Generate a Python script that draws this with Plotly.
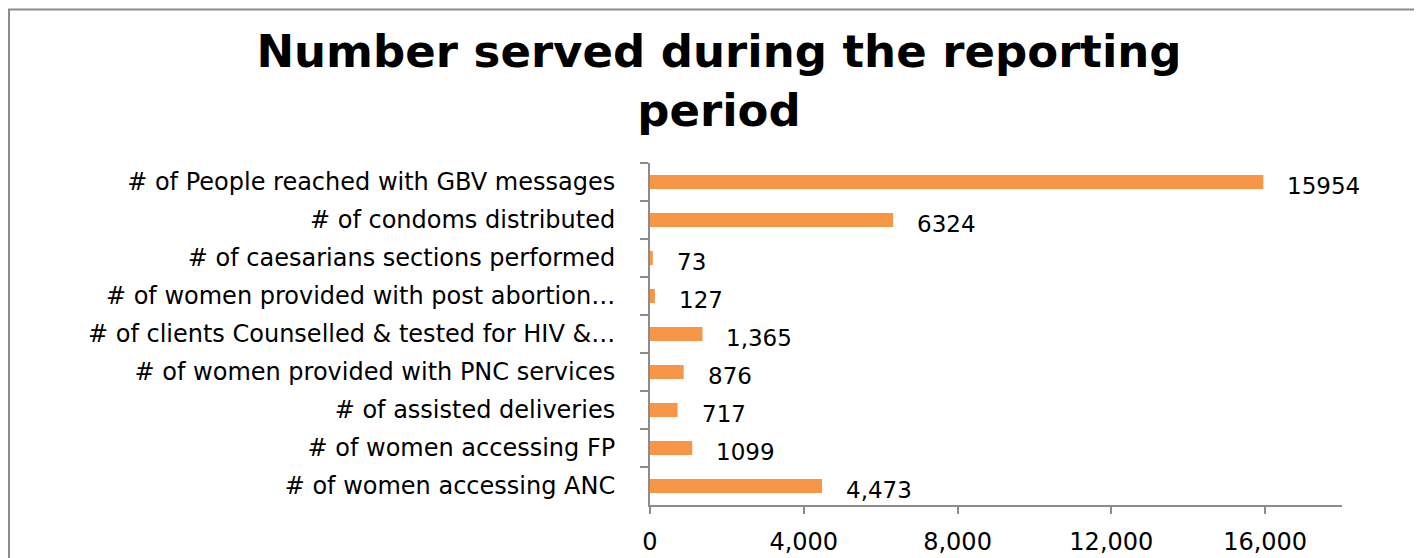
import plotly.graph_objects as go

categories = [
    "# of People reached with GBV messages",
    "# of condoms distributed",
    "# of caesarians sections performed",
    "# of women provided with post abortion…",
    "# of clients Counselled & tested for HIV &…",
    "# of women provided with PNC services",
    "# of assisted deliveries",
    "# of women accessing FP",
    "# of women accessing ANC",
]
values = [15954, 6324, 73, 127, 1365, 876, 717, 1099, 4473]
value_labels = ["15954", "6324", "73", "127", "1,365", "876", "717", "1099", "4,473"]
x_ticks = [0, 4000, 8000, 12000, 16000]
x_tick_labels = ["0", "4,000", "8,000", "12,000", "16,000"]

# page body has an 8px margin, so figure coords = screen coords - 8
W, H = 1414, 550
L, R, T, B = 642, 80, 155, 53
pw, ph = W - L - R, H - T - B

fig = go.Figure()
fig.add_trace(go.Bar(
    y=categories, x=values, orientation="h",
    marker=dict(color="#F79646", line=dict(width=0)),
    width=0.37,
))
for c, v, t in zip(categories, values, value_labels):
    fig.add_annotation(x=v, y=c, text=t, showarrow=False, xanchor="left",
                       xshift=22, yshift=-4,
                       font=dict(family="DejaVu Sans", size=23, color="#000000"))

def px_x(p):
    return (p - L) / pw

def px_y(p):
    return (H - B - p) / ph

fig.add_shape(type="rect", xref="paper", yref="paper",
              x0=px_x(1), x1=px_x(1440), y0=px_y(580), y1=px_y(1.5),
              line=dict(color="#8C8C8C", width=2), fillcolor="rgba(0,0,0,0)")

fig.update_layout(
    width=W, height=H,
    margin=dict(l=L, r=R, t=T, b=B, autoexpand=False),
    paper_bgcolor="white", plot_bgcolor="white",
    showlegend=False,
    title=dict(text="<b>Number served during the reporting<br>period</b>",
               x=711 / W, xanchor="center", y=1 - 59 / H, yanchor="middle",
               automargin=False,
               font=dict(family="DejaVu Sans", size=45, color="#000000")),
    xaxis=dict(range=[0, 18000], tickvals=x_ticks, ticktext=x_tick_labels,
               automargin=False,
               showgrid=False, zeroline=False, showline=True,
               linecolor="#8C8C8C", linewidth=2,
               ticks="outside", ticklen=7, tickwidth=2, tickcolor="#8C8C8C",
               ticklabelstandoff=7,
               tickfont=dict(family="DejaVu Sans", size=24, color="#000000")),
    yaxis=dict(autorange="reversed", showgrid=False, zeroline=False,
               automargin=False,
               showline=True, linecolor="#8C8C8C", linewidth=2,
               ticks="outside", ticklen=8, tickwidth=2, tickcolor="#8C8C8C",
               tickson="boundaries", ticklabelstandoff=28,
               tickfont=dict(family="DejaVu Sans", size=24, color="#000000")),
)

fig.write_html("out.html")
